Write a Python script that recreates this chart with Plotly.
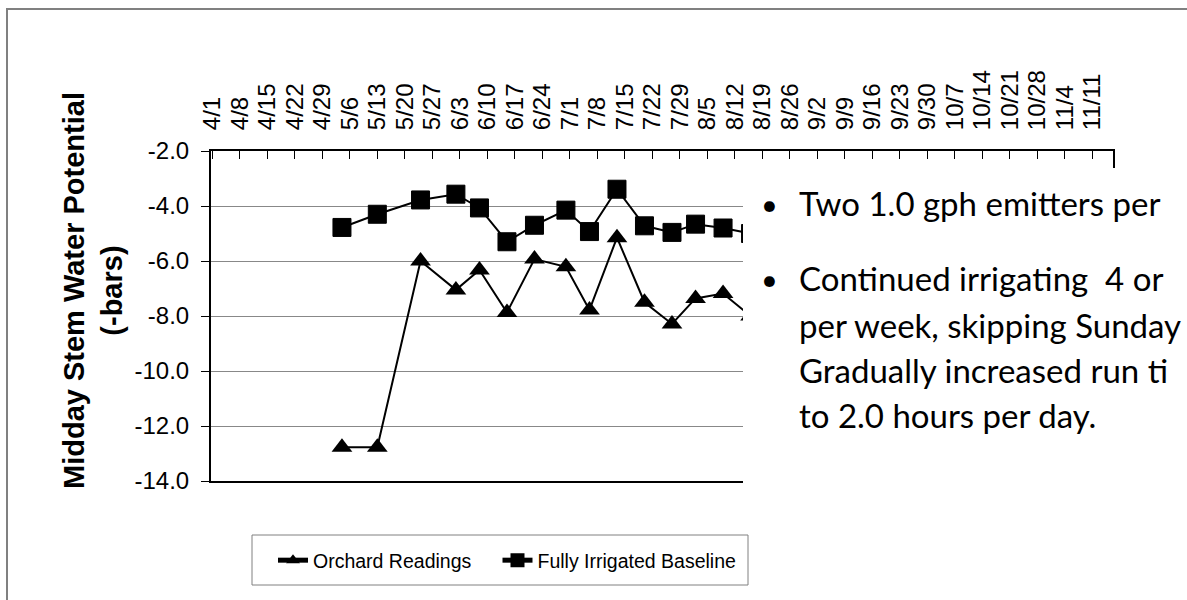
import plotly.graph_objects as go
from datetime import datetime

YEAR = 2009

# ---- data ----
tick_labels = ["4/1", "4/8", "4/15", "4/22", "4/29", "5/6", "5/13", "5/20", "5/27",
               "6/3", "6/10", "6/17", "6/24", "7/1", "7/8", "7/15", "7/22", "7/29",
               "8/5", "8/12", "8/19", "8/26", "9/2", "9/9", "9/16", "9/23", "9/30",
               "10/7", "10/14", "10/21", "10/28", "11/4", "11/11"]

sample_dates = ["5/4", "5/13", "5/24", "6/2", "6/8", "6/15", "6/22", "6/30",
                "7/6", "7/13", "7/20", "7/27", "8/2", "8/9", "8/16"]

orchard_readings = [-12.77, -12.77, -6.0, -7.05, -6.33, -7.87, -5.93, -6.21,
                    -7.78, -5.15, -7.5, -8.29, -7.36, -7.18, -8.0]

fully_irrigated_baseline = [-4.78, -4.3, -3.78, -3.57, -4.07, -5.3, -4.7, -4.15,
                            -4.93, -3.39, -4.72, -4.96, -4.66, -4.8, -5.0]

y_tick_values = [-2, -4, -6, -8, -10, -12, -14]
y_tick_labels = ["-2.0", "-4.0", "-6.0", "-8.0", "-10.0", "-12.0", "-14.0"]

bullet_lines = [
    ("•", "Two 1.0 gph emitters per"),
    ("•", "Continued irrigating  4 or"),
    ("", "per week, skipping Sunday"),
    ("", "Gradually increased run ti"),
    ("", "to 2.0 hours per day."),
]


def to_date(md):
    m, d = md.split("/")
    return datetime(YEAR, int(m), int(d))


x_samples = [to_date(s) for s in sample_dates]
tick_vals = [to_date(s) for s in tick_labels]

# ---- layout geometry (pixels) ----
W, H = 1187, 600
ML, MR, MT, MB = 211, 74, 151, 119
PW = W - ML - MR
PH = H - MT - MB


def px(x):
    return (x - ML) / PW


def py(y):
    return (H - MB - y) / PH


AX_FONT = "Liberation Sans, Arial, sans-serif"
BOX_FONT = "Lato, sans-serif"

fig = go.Figure()
fig.add_trace(go.Scatter(
    x=x_samples, y=orchard_readings, name="Orchard Readings",
    mode="lines+markers",
    line=dict(color="black", width=2),
    marker=dict(symbol="triangle-up", size=18, color="black"),
))
fig.add_trace(go.Scatter(
    x=x_samples, y=fully_irrigated_baseline, name="Fully Irrigated Baseline",
    mode="lines+markers",
    line=dict(color="black", width=2),
    marker=dict(symbol="square", size=18, color="black",
                line=dict(color="black", width=1)),
))

annotations = [
    dict(text="Midday Stem Water Potential<br>(-bars)", textangle=-90,
         x=px(93), y=py(291), xref="paper", yref="paper",
         xanchor="center", yanchor="middle", showarrow=False,
         font=dict(family=AX_FONT, size=29, color="black", weight="bold")),
]
line_y = [203, 278, 325, 370, 415]
for (b, t), yy in zip(bullet_lines, line_y):
    if b:
        annotations.append(dict(text=b, x=px(769), y=py(yy), xref="paper", yref="paper",
                                xanchor="center", yanchor="middle", showarrow=False,
                                font=dict(family=BOX_FONT, size=29, color="black")))
    annotations.append(dict(text=t, x=px(797), y=py(yy), xref="paper", yref="paper",
                            xanchor="left", yanchor="middle", showarrow=False,
                            font=dict(family=BOX_FONT, size=33, color="black")))

shapes = [
    # white text box covering the right part of the plot
    dict(type="rect", xref="paper", yref="paper", layer="above",
         x0=px(743), x1=px(1200), y0=py(168), y1=py(500),
         fillcolor="white", line=dict(width=0)),
    # legend box
    dict(type="rect", xref="paper", yref="paper", layer="above",
         x0=px(252), x1=px(748), y0=py(535), y1=py(585),
         fillcolor="white", line=dict(color="#808080", width=1)),
    # outer chart frame
    dict(type="rect", xref="paper", yref="paper", layer="above",
         x0=px(7), x1=px(1230), y0=py(9), y1=py(640),
         fillcolor="rgba(0,0,0,0)", line=dict(color="#808080", width=2)),
]

fig.update_layout(
    width=W, height=H,
    margin=dict(l=ML, r=MR, t=MT, b=MB),
    paper_bgcolor="white", plot_bgcolor="white",
    font=dict(family=AX_FONT, color="black"),
    xaxis=dict(
        type="date", side="top",
        range=["2009-03-31 16:00", "2009-11-16 06:00"],
        tickvals=tick_vals, ticktext=tick_labels, tickangle=-90,
        ticks="inside", ticklen=8, tickwidth=1, tickcolor="black",
        showline=True, linecolor="black", linewidth=2, mirror=True,
        showgrid=False, zeroline=False,
        tickfont=dict(family=AX_FONT, size=24, color="black"),
        ticklabelstandoff=14,
    ),
    yaxis=dict(
        range=[-14, -2],
        tickvals=y_tick_values, ticktext=y_tick_labels,
        ticks="outside", ticklen=8, tickwidth=1, tickcolor="black",
        showline=True, linecolor="black", linewidth=2, mirror=True,
        showgrid=True, gridcolor="#888888", gridwidth=1, zeroline=False,
        tickfont=dict(family=AX_FONT, size=24, color="black"),
        ticklabelstandoff=7,
    ),
    showlegend=True,
    legend=dict(
        orientation="h", x=px(252), y=py(541), xanchor="left", yanchor="top",
        borderwidth=0, bgcolor="rgba(0,0,0,0)",
        font=dict(family=AX_FONT, size=19.5, color="black"),
        itemsizing="constant", indentation=21,
    ),
    annotations=annotations,
    shapes=shapes,
)

fig.write_html(
    "out.html",
    config={"displayModeBar": False},
    post_script="document.body.style.margin='0';document.body.style.overflow='hidden';",
)
